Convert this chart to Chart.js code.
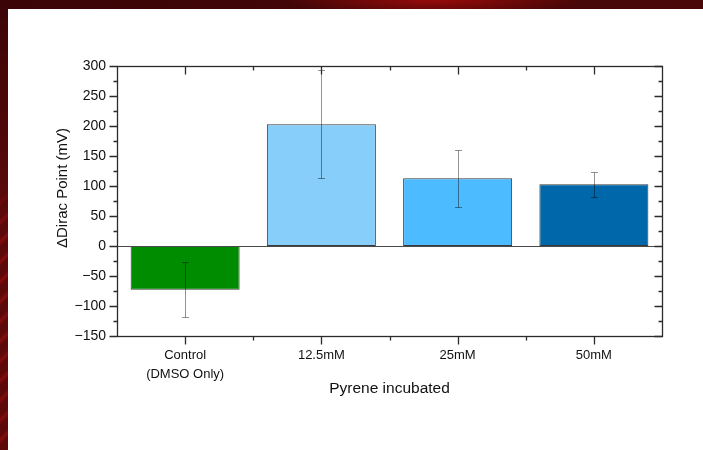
<!DOCTYPE html>
<html>
<head>
<meta charset="utf-8">
<script src="https://cdn.jsdelivr.net/npm/chart.js@4"></script>
<style>
  html, body { margin: 0; padding: 0; }
  body {
    width: 703px; height: 450px; overflow: hidden; position: relative;
    background:
      radial-gradient(ellipse 150px 16px at 435px 0px, #980b0b 0%, rgba(130,9,9,0.7) 50%, rgba(0,0,0,0) 100%),
      linear-gradient(to right, #3b0507, #4a0708);
  }
  #strip {
    position: absolute; left: 0; top: 9px; width: 8px; height: 441px;
    background:
      linear-gradient(to bottom, #3d0507 0px, #560909 170px, rgba(86,9,9,0) 220px),
      repeating-linear-gradient(135deg, #5e0909 0px, #5e0909 8px, #860c0c 11px, #5e0909 14px);
  }
  #panel {
    position: absolute; left: 8px; top: 9px; width: 695px; height: 441px;
    background: #ffffff;
  }
</style>
</head>
<body>
<div id="strip"></div>
<div id="panel"><canvas id="chart" width="695" height="441"></canvas></div>
<script>
// Dirac point shift per pyrene concentration

const categories = [['Control', '(DMSO Only)'], '12.5mM', '25mM', '50mM'];
const shiftValues = [-73, 203, 113, 103];
const errorValues = [46, 90, 47.5, 20.5];
const barColors = ['#008c00', '#87cefa', '#4dbbff', '#0068aa'];
const yMin = -150;
const yMax = 300;
const yMajorStep = 50;
const yMinorStep = 25;
const yTitle = '\u0394Dirac Point (mV)';
const xTitle = 'Pyrene incubated';

const axisColor = '#2b2b2b';
const textColor = '#111111';
const fontFamily = 'Arial, "Liberation Sans", Helvetica, sans-serif';

// Frame, mirrored ticks, zero line, error bars, y title
const framePlugin = {
    id: 'frame',
    afterDatasetsDraw(chart) {
        const {ctx, chartArea, scales} = chart;
        const {left, right, top, bottom} = chartArea;
        const x = scales.x;
        const y = scales.y;

        ctx.save();

        // zero line
        const y0 = Math.round(y.getPixelForValue(0)) + 0.5;
        ctx.strokeStyle = '#4a4a4a';
        ctx.lineWidth = 1.2;
        ctx.beginPath();
        ctx.moveTo(left, y0);
        ctx.lineTo(right, y0);
        ctx.stroke();

        // error bars
        const meta = chart.getDatasetMeta(0);
        ctx.strokeStyle = 'rgba(0, 0, 0, 0.42)';
        ctx.lineWidth = 1;
        meta.data.forEach((bar, i) => {
            const cx = Math.round(bar.x) + 0.5;
            const yHi = Math.round(y.getPixelForValue(shiftValues[i] + errorValues[i])) + 0.5;
            const yLo = Math.round(y.getPixelForValue(shiftValues[i] - errorValues[i])) + 0.5;
            ctx.beginPath();
            ctx.moveTo(cx, yHi);
            ctx.lineTo(cx, yLo);
            ctx.moveTo(cx - 3.5, yHi);
            ctx.lineTo(cx + 3.5, yHi);
            ctx.moveTo(cx - 3.5, yLo);
            ctx.lineTo(cx + 3.5, yLo);
            ctx.stroke();
        });

        // frame
        ctx.strokeStyle = axisColor;
        ctx.lineWidth = 1.3;
        const L = Math.round(left) + 0.5, R = Math.round(right) + 0.5;
        const T = Math.round(top) + 0.5, B = Math.round(bottom) + 0.5;
        ctx.strokeRect(L, T, R - L, B - T);

        // y ticks: out on the left, in on the right
        ctx.beginPath();
        for (let v = yMin; v <= yMax; v += yMinorStep) {
            const py = Math.round(y.getPixelForValue(v)) + 0.5;
            const len = (v % yMajorStep === 0) ? 8 : 4;
            ctx.moveTo(L, py);
            ctx.lineTo(L - len, py);
            ctx.moveTo(R, py);
            ctx.lineTo(R - len, py);
        }
        // x ticks: out at the bottom, in at the top
        const centers = categories.map((c, i) => x.getPixelForValue(i));
        centers.forEach((c, i) => {
            const px = Math.round(c) + 0.5;
            ctx.moveTo(px, B);
            ctx.lineTo(px, B + 8);
            ctx.moveTo(px, T);
            ctx.lineTo(px, T + 8);
            if (i < centers.length - 1) {
                const mx = Math.round((c + centers[i + 1]) / 2) + 0.5;
                ctx.moveTo(mx, B);
                ctx.lineTo(mx, B + 4);
                ctx.moveTo(mx, T);
                ctx.lineTo(mx, T + 4);
            }
        });
        ctx.stroke();

        // y title
        ctx.translate(55, 179);
        ctx.rotate(-Math.PI / 2);
        ctx.fillStyle = textColor;
        ctx.font = '15px ' + fontFamily;
        ctx.textAlign = 'center';
        ctx.textBaseline = 'middle';
        ctx.fillText(yTitle, 0, 0);

        ctx.restore();
    }
};

const ctx = document.getElementById('chart').getContext('2d');

new Chart(ctx, {
    type: 'bar',
    data: {
        labels: categories,
        datasets: [{
            data: shiftValues,
            backgroundColor: barColors,
            borderColor: '#3a3a3a',
            borderWidth: 1,
            borderSkipped: false,
            categoryPercentage: 0.8,
            barPercentage: 1.0
        }]
    },
    plugins: [framePlugin],
    options: {
        responsive: false,
        animation: false,
        devicePixelRatio: 1,
        layout: {
            padding: { left: 0, top: 57, right: 41, bottom: 0 }
        },
        plugins: {
            legend: { display: false },
            tooltip: { enabled: false }
        },
        scales: {
            x: {
                grid: { display: false, drawTicks: false },
                border: { display: false },
                ticks: {
                    color: textColor,
                    padding: 10,
                    maxRotation: 0,
                    font: { family: fontFamily, size: 13, lineHeight: 1.45 }
                },
                title: {
                    display: true,
                    text: xTitle,
                    color: textColor,
                    padding: { top: 0, bottom: 52 },
                    font: { family: fontFamily, size: 15.5, lineHeight: 1.2 }
                },
                afterFit: (scale) => { scale.height = 114; }
            },
            y: {
                min: yMin,
                max: yMax,
                grid: { display: false, drawTicks: false },
                border: { display: false },
                ticks: {
                    stepSize: yMajorStep,
                    color: textColor,
                    padding: 11,
                    font: { family: fontFamily, size: 14 },
                    callback: (v) => String(v).replace('-', '\u2212')
                },
                afterFit: (scale) => { scale.width = 109; }
            }
        }
    }
});
</script>
</body>
</html>
